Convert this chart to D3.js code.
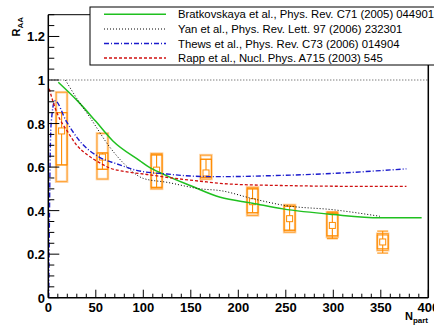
<!DOCTYPE html>
<html>
<head>
<meta charset="utf-8">
<script src="https://cdn.jsdelivr.net/npm/d3@7"></script>
<style>
  body { margin: 0; background: #fff; }
  svg { display: block; font-family: "Liberation Sans", Arial, Helvetica, sans-serif; }
</style>
</head>
<body>
<script>
// measured points (Npart, R_AA)
const npart = [14, 57, 114, 166, 215, 254, 299, 352];
const raa = [0.766, 0.646, 0.586, 0.573, 0.441, 0.363, 0.332, 0.256];
const sysLo = [0.533, 0.545, 0.500, 0.545, 0.378, 0.301, 0.279, 0.218];
const sysHi = [0.944, 0.755, 0.662, 0.655, 0.507, 0.426, 0.393, 0.294];
const innerLo = [0.610, 0.590, 0.507, 0.553, 0.390, 0.310, 0.285, 0.225];
const innerHi = [0.850, 0.665, 0.656, 0.636, 0.500, 0.420, 0.387, 0.288];
const errLo = [0.610, 0.590, 0.507, 0.553, 0.390, 0.310, 0.271, 0.205];
const errHi = [0.850, 0.665, 0.656, 0.636, 0.500, 0.420, 0.393, 0.306];

// model curves
const bratX = [10.5, 31, 50, 68, 96.5, 104, 121, 150, 181, 215, 247, 300, 349, 393];
const bratY = [0.99, 0.903, 0.81, 0.72, 0.629, 0.606, 0.568, 0.514, 0.461, 0.434, 0.408, 0.382, 0.367, 0.367];
const yanX = [18, 30, 44, 65, 81, 100, 125, 160, 181, 216, 250, 300, 349];
const yanY = [1.0, 0.915, 0.827, 0.69, 0.61, 0.548, 0.53, 0.50, 0.492, 0.454, 0.423, 0.404, 0.374];
const thewsX = [0.5, 1.5, 3, 7, 19, 33, 54, 72, 93, 125, 160, 181, 230, 300, 377];
const thewsY = [0.0, 0.5, 0.8, 0.905, 0.81, 0.72, 0.645, 0.615, 0.585, 0.568, 0.557, 0.556, 0.560, 0.571, 0.592];
const rappX = [1, 5, 10, 20, 30, 40, 54, 65, 80, 104, 130, 160, 191, 250, 300, 377];
const rappY = [0.96, 0.90, 0.84, 0.765, 0.70, 0.66, 0.62, 0.595, 0.58, 0.566, 0.55, 0.535, 0.522, 0.515, 0.512, 0.511];

const legendLabels = [
  "Bratkovskaya et al., Phys. Rev. C71 (2005) 044901",
  "Yan et al., Phys. Rev. Lett. 97 (2006) 232301",
  "Thews et al., Phys. Rev. C73 (2006) 014904",
  "Rapp et al., Nucl. Phys. A715 (2003) 545"
];
const xTicks = [0, 50, 100, 150, 200, 250, 300, 350, 400];
const yTicks = [0, 0.2, 0.4, 0.6, 0.8, 1, 1.2];

const width = 434, height = 333;
const svg = d3.select("body").append("svg")
  .attr("width", width)
  .attr("height", height);

const x = d3.scaleLinear().domain([0, 400]).range([48.3, 428.3]);
const y = d3.scaleLinear().domain([0, 1.3]).range([297.7, 14.7]);

const orange = "#ff8c00";
const lightOrange = "#ffcf99";

// reference line at 1
svg.append("line")
  .attr("x1", x(0)).attr("x2", x(400))
  .attr("y1", y(1)).attr("y2", y(1))
  .attr("stroke", "#444").attr("stroke-width", 1)
  .attr("stroke-dasharray", "1,2");

// data: boxes, error bars, markers
const hw = 5.5;
const pts = npart.map((n, i) => ({n: n, v: raa[i], sl: sysLo[i], sh: sysHi[i],
  il: innerLo[i], ih: innerHi[i], el: errLo[i], eh: errHi[i]}));

const g = svg.append("g");
g.selectAll(".sys").data(pts).enter().append("rect")
  .attr("x", d => x(d.n) - hw).attr("width", hw * 2)
  .attr("y", d => y(d.sh)).attr("height", d => y(d.sl) - y(d.sh))
  .attr("fill", "none").attr("stroke", lightOrange).attr("stroke-width", 2.5);
g.selectAll(".sys2").data(pts).enter().append("rect")
  .attr("x", d => x(d.n) - hw).attr("width", hw * 2)
  .attr("y", d => y(d.sh)).attr("height", d => y(d.sl) - y(d.sh))
  .attr("fill", "none").attr("stroke", orange).attr("stroke-width", 0.6);
g.selectAll(".inner").data(pts).enter().append("rect")
  .attr("x", d => x(d.n) - hw).attr("width", hw * 2)
  .attr("y", d => y(d.ih)).attr("height", d => y(d.il) - y(d.ih))
  .attr("fill", "none").attr("stroke", orange).attr("stroke-width", 0.9);
g.selectAll(".err").data(pts).enter().append("line")
  .attr("x1", d => x(d.n)).attr("x2", d => x(d.n))
  .attr("y1", d => y(d.eh)).attr("y2", d => y(d.el))
  .attr("stroke", orange).attr("stroke-width", 1.1);
g.selectAll(".capT").data(pts).enter().append("line")
  .attr("x1", d => x(d.n) - hw).attr("x2", d => x(d.n) + hw)
  .attr("y1", d => y(d.eh)).attr("y2", d => y(d.eh))
  .attr("stroke", orange).attr("stroke-width", 1.1);
g.selectAll(".capB").data(pts).enter().append("line")
  .attr("x1", d => x(d.n) - hw).attr("x2", d => x(d.n) + hw)
  .attr("y1", d => y(d.el)).attr("y2", d => y(d.el))
  .attr("stroke", orange).attr("stroke-width", 1.1);
g.selectAll(".mk").data(pts).enter().append("rect")
  .attr("x", d => x(d.n) - 3).attr("y", d => y(d.v) - 3)
  .attr("width", 6).attr("height", 6)
  .attr("fill", "#fff").attr("stroke", orange).attr("stroke-width", 1);

// curves
const line = d3.line().x(d => x(d[0])).y(d => y(d[1])).curve(d3.curveMonotoneX);
const curves = [
  {xs: bratX, ys: bratY, color: "#1fc01f", dash: null, w: 1.5},
  {xs: yanX, ys: yanY, color: "#000", dash: "1,2", w: 1},
  {xs: thewsX, ys: thewsY, color: "#1a1acc", dash: "5,2,1,2", w: 1.4},
  {xs: rappX, ys: rappY, color: "#d01010", dash: "3,2", w: 1.3}
];
curves.forEach(c => {
  svg.append("path")
    .datum(c.xs.map((v, i) => [v, c.ys[i]]))
    .attr("d", line)
    .attr("fill", "none")
    .attr("stroke", c.color)
    .attr("stroke-width", c.w)
    .attr("stroke-dasharray", c.dash);
});

// axes
const xAxis = svg.append("g");
xAxis.append("line")
  .attr("x1", x(0)).attr("x2", x(400)).attr("y1", y(0)).attr("y2", y(0))
  .attr("stroke", "#000").attr("stroke-width", 1.5);
d3.range(0, 401, 10).forEach(v => {
  const major = v % 50 === 0;
  xAxis.append("line")
    .attr("x1", x(v)).attr("x2", x(v))
    .attr("y1", y(0)).attr("y2", y(0) - (major ? 8 : 4))
    .attr("stroke", "#000").attr("stroke-width", 1);
});
xAxis.selectAll(".xl").data(xTicks).enter().append("text")
  .attr("x", d => x(d)).attr("y", 312)
  .attr("text-anchor", "middle")
  .attr("font-size", 13).attr("font-weight", "bold")
  .text(d => d);

const yAxis = svg.append("g");
yAxis.append("line")
  .attr("x1", x(0)).attr("x2", x(0)).attr("y1", y(0)).attr("y2", y(1.3))
  .attr("stroke", "#000").attr("stroke-width", 1.5);
d3.range(0, 27).forEach(k => {
  const v = k * 0.05;
  const major = k % 4 === 0;
  yAxis.append("line")
    .attr("x1", x(0)).attr("x2", x(0) + (major ? 11 : 6))
    .attr("y1", y(v)).attr("y2", y(v))
    .attr("stroke", "#000").attr("stroke-width", 1);
});
yAxis.selectAll(".yl").data(yTicks).enter().append("text")
  .attr("x", 45).attr("y", d => y(d) + 5)
  .attr("text-anchor", "end")
  .attr("font-size", 13).attr("font-weight", "bold")
  .text(d => d === 0 ? "0" : d3.format("")(d));

// frame top and right
svg.append("line")
  .attr("x1", x(0)).attr("x2", x(400)).attr("y1", y(1.3)).attr("y2", y(1.3))
  .attr("stroke", "#000").attr("stroke-width", 1);
svg.append("line")
  .attr("x1", x(400)).attr("x2", x(400)).attr("y1", y(1.3)).attr("y2", y(0))
  .attr("stroke", "#000").attr("stroke-width", 1.5);

// axis titles
const yt = svg.append("text")
  .attr("transform", "translate(20,17) rotate(-90)")
  .attr("text-anchor", "end")
  .attr("font-size", 11).attr("font-weight", "bold");
yt.append("tspan").text("R");
yt.append("tspan").attr("font-size", 8).attr("dy", 3).text("AA");

const xt = svg.append("text")
  .attr("x", 428).attr("y", 320)
  .attr("text-anchor", "end")
  .attr("font-size", 11).attr("font-weight", "bold");
xt.append("tspan").text("N");
xt.append("tspan").attr("font-size", 8).attr("dy", 3).text("part");

// legend
const lg = svg.append("g");
lg.append("rect")
  .attr("x", 90).attr("y", 7).attr("width", 360).attr("height", 58)
  .attr("fill", "#fff").attr("stroke", "#000").attr("stroke-width", 1);
const rowY = [14.3, 29, 43.5, 58];
legendLabels.forEach((t, i) => {
  const c = curves[i];
  lg.append("line")
    .attr("x1", 104).attr("x2", 166).attr("y1", rowY[i]).attr("y2", rowY[i])
    .attr("stroke", c.color).attr("stroke-width", c.w)
    .attr("stroke-dasharray", c.dash);
  lg.append("text")
    .attr("x", 178).attr("y", rowY[i] + 4)
    .attr("font-size", 11.3)
    .text(t);
});
</script>
</body>
</html>
